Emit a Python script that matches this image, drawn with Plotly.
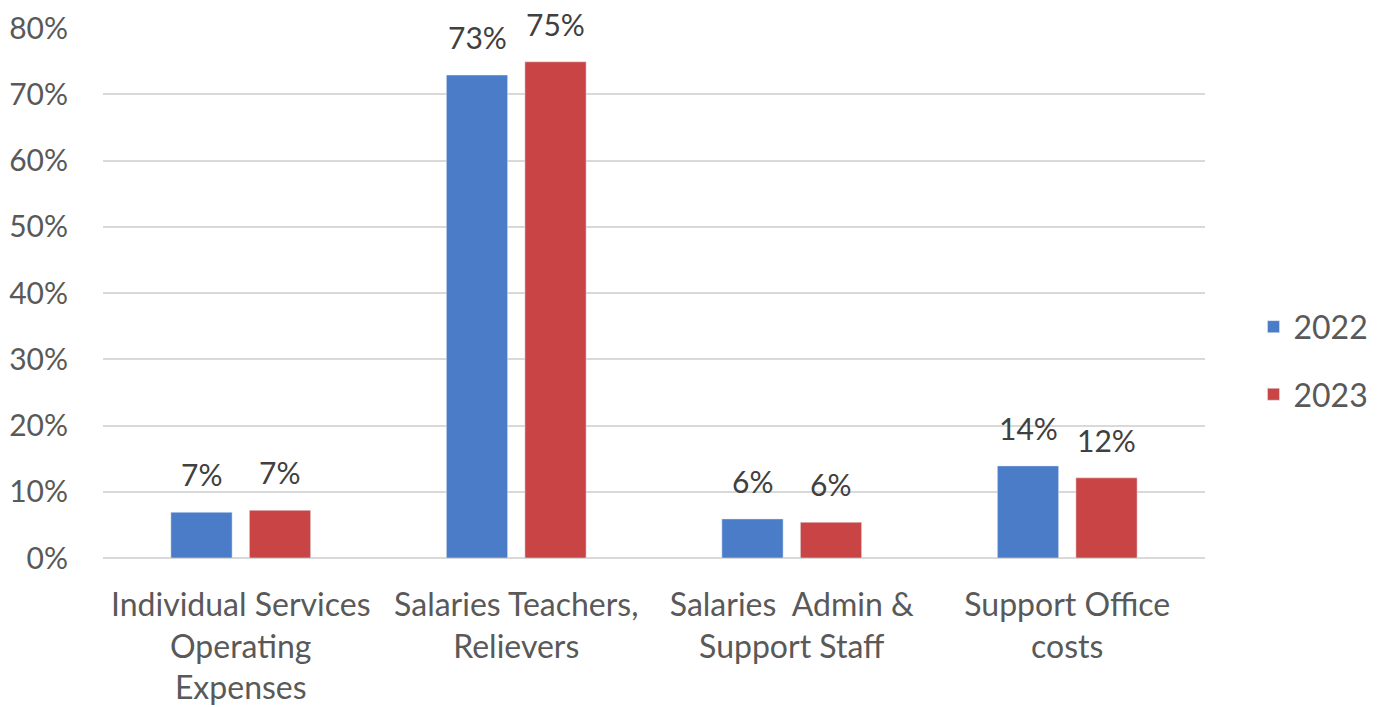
import plotly.graph_objects as go

categories = ["Individual Services<br>Operating<br>Expenses",
              "Salaries Teachers,<br>Relievers",
              "Salaries  Admin &<br>Support Staff",
              "Support Office<br>costs"]
values_2022 = [0.069, 0.729, 0.059, 0.139]
values_2023 = [0.072, 0.749, 0.054, 0.121]
labels_2022 = ["7%", "73%", "6%", "14%"]
labels_2023 = ["7%", "75%", "6%", "12%"]
tick_vals = [0, 0.1, 0.2, 0.3, 0.4, 0.5, 0.6, 0.7, 0.8]
tick_text = ["0%", "10%", "20%", "30%", "40%", "50%", "60%", "70%", "80%"]

FONT = "Lato, Open Sans, sans-serif"
TXT = "#595959"

fig = go.Figure()
fig.add_trace(go.Bar(name="2022", x=categories, y=values_2022,
                     marker_color="#4A7CC7", legendgroup="a"))
fig.add_trace(go.Bar(name="2023", x=categories, y=values_2023,
                     marker_color="#C94545", legendgroup="b"))

# data labels above each bar (shifted left/right to their bar in the group)
for vals, labs, dx in [(values_2022, labels_2022, -39), (values_2023, labels_2023, 39)]:
    for c, v, t in zip(categories, vals, labs):
        fig.add_annotation(x=c, y=v, text=t, showarrow=False, xshift=dx,
                           yshift=38, yanchor="middle",
                           font=dict(size=30, color="#404040", family=FONT))

fig.update_layout(
    width=1385, height=707,
    margin=dict(l=103, r=178, t=28, b=149),
    paper_bgcolor="white", plot_bgcolor="white",
    barmode="group", bargap=0.43, bargroupgap=0.22,
    font=dict(family=FONT, color=TXT, size=30),
    legend=dict(x=1.044, xanchor="left", y=0.372, yanchor="middle",
                font=dict(size=32, color=TXT, family=FONT),
                tracegroupgap=23, traceorder="grouped"),
)
fig.update_xaxes(showgrid=False, showline=False, ticks="", ticklabelstandoff=25,
                 automargin=False,
                 tickfont=dict(size=32, color=TXT, family=FONT))
fig.update_yaxes(range=[0, 0.8], tickvals=tick_vals, ticktext=tick_text,
                 showgrid=True, gridcolor="#D9D9D9", gridwidth=1.5,
                 zeroline=True, zerolinecolor="#D9D9D9", zerolinewidth=1.5,
                 showline=False, ticks="", ticklabelstandoff=34, automargin=False,
                 tickfont=dict(size=30, color=TXT, family=FONT))

fig.write_html("out.html")
